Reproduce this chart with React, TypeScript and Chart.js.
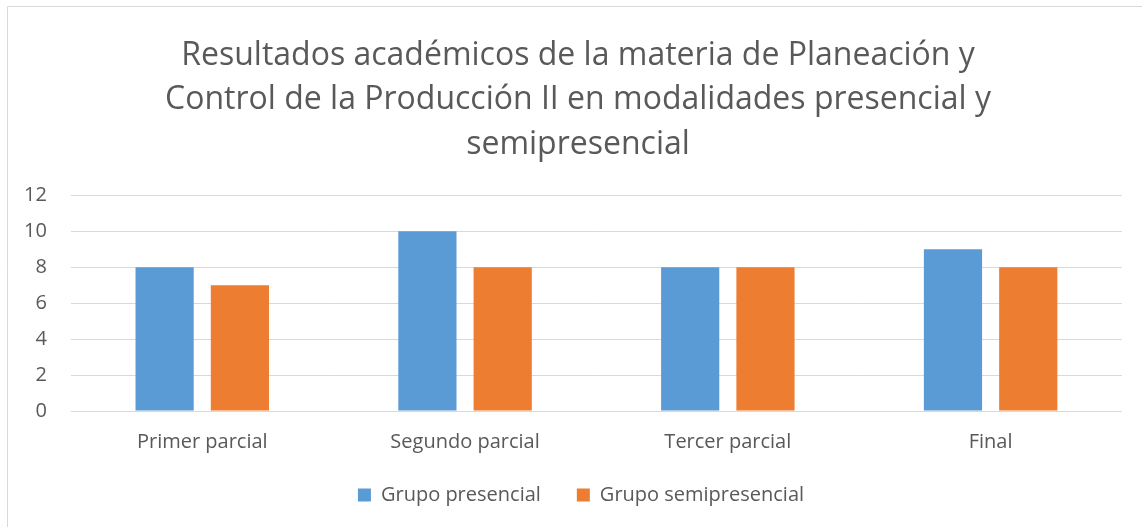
import React, { useEffect, useRef } from "react";
import { Chart, registerables } from "chart.js";

Chart.register(...registerables);

const categories = ["Primer parcial", "Segundo parcial", "Tercer parcial", "Final"];
const presencial = [8, 10, 8, 9];
const semipresencial = [7, 8, 8, 8];
const seriesNames = ["Grupo presencial", "Grupo semipresencial"];
const titleLines = [
  "Resultados académicos de la materia de Planeación y",
  "Control de la Producción II en modalidades presencial y",
  "semipresencial",
];

const FONT = "'Open Sans', sans-serif";
const TEXT = "#595959";

const framePlugin = {
  id: "frame",
  beforeDraw(chart: any) {
    const ctx = chart.ctx;
    ctx.save();
    ctx.fillStyle = "#ffffff";
    ctx.fillRect(0, 0, chart.width, chart.height);
    ctx.strokeStyle = "#d9d9d9";
    ctx.lineWidth = 1;
    ctx.beginPath();
    ctx.moveTo(7.5, chart.height + 5);
    ctx.lineTo(7.5, 6.5);
    ctx.lineTo(chart.width + 5, 6.5);
    ctx.stroke();
    ctx.restore();
  },
  afterLayout(chart: any) {
    const t = chart.titleBlock;
    if (t) {
      t.left += 17;
      t.right += 17;
    }
    const l = chart.legend;
    if (l) {
      l.left += 20;
      l.right += 20;
      l.top -= 16;
      l.bottom -= 16;
    }
  },
};

export default function App() {
  const ref = useRef<HTMLCanvasElement>(null);
  useEffect(() => {
    if (!ref.current) return;
    const chart = new Chart(ref.current, {
      type: "bar",
      data: {
        labels: categories,
        datasets: [
          {
            label: seriesNames[0],
            data: presencial,
            backgroundColor: "#5B9BD5",
            categoryPercentage: 0.573,
            barPercentage: 0.773,
          },
          {
            label: seriesNames[1],
            data: semipresencial,
            backgroundColor: "#ED7D31",
            categoryPercentage: 0.573,
            barPercentage: 0.773,
          },
        ],
      },
      options: {
        animation: false,
        responsive: false,
        maintainAspectRatio: false,
        layout: { padding: { left: 0, right: 20, top: 20, bottom: -4 } },
        plugins: {
          title: {
            display: true,
            text: titleLines,
            color: TEXT,
            font: { family: FONT, size: 32, weight: "normal", lineHeight: 1.4 },
            padding: { top: 13, bottom: 28 },
          },
          legend: {
            position: "bottom",
            labels: {
              color: TEXT,
              font: { family: FONT, size: 20 },
              boxWidth: 13,
              boxHeight: 13,
              padding: 36,
            },
          },
          tooltip: { enabled: false },
        },
        scales: {
          x: {
            grid: { display: false },
            border: { display: false },
            ticks: { color: TEXT, font: { family: FONT, size: 20 }, padding: 11 },
          },
          y: {
            min: 0,
            max: 12,
            ticks: {
              stepSize: 2,
              color: TEXT,
              font: { family: FONT, size: 20 },
              padding: 24,
            },
            grid: { color: "#d9d9d9", drawTicks: false },
            border: { display: false },
          },
        },
      },
      plugins: [framePlugin],
    });
    return () => chart.destroy();
  }, []);
  return (
    <div style={{ position: "fixed", left: 0, top: 0, width: 1142, height: 527 }}>
      <canvas ref={ref} width={1142} height={527} style={{ width: 1142, height: 527 }} />
    </div>
  );
}
